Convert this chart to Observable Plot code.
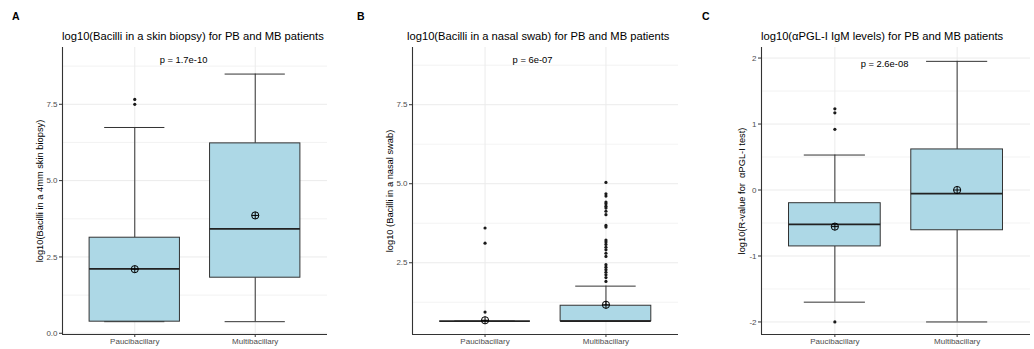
<!DOCTYPE html>
<html>
<head>
<meta charset="utf-8">
<script src="https://cdn.jsdelivr.net/npm/d3@7"></script>
<script src="https://cdn.jsdelivr.net/npm/@observablehq/plot@0.6"></script>
<style>
  html, body { margin: 0; padding: 0; background: #fff; }
  body { font-family: "Liberation Sans", Arial, sans-serif; }
  #wrap { position: relative; width: 1034px; height: 349px; overflow: hidden; }
  .panel { position: absolute; top: 0; height: 349px; }
  .letter { position: absolute; top: 11px; font-weight: bold; font-size: 10.5px; line-height: 11px; color: #000; }
  .title { position: absolute; top: 30px; font-size: 11.2px; line-height: 13px; white-space: nowrap; color: #000; }
</style>
</head>
<body>
<div id="wrap"></div>
<script>
// ---------- data ----------
const groups = ["Paucibacillary", "Multibacillary"];

// Panel A: log10(Bacilli in a skin biopsy)
const skinWhiskerLow  = [0.38, 0.38];
const skinQ1          = [0.38, 1.82];
const skinMedian      = [2.11, 3.42];
const skinQ3          = [3.13, 6.22];
const skinWhiskerHigh = [6.74, 8.49];
const skinMean        = [2.10, 3.86];
const skinOutliersPB  = [7.50, 7.66];
const skinOutliersMB  = [];

// Panel B: log10(Bacilli in a nasal swab)
const nasalWhiskerLow  = [0.65, 0.65];
const nasalQ1          = [0.65, 0.65];
const nasalMedian      = [0.65, 0.65];
const nasalQ3          = [0.65, 1.14];
const nasalWhiskerHigh = [0.65, 1.76];
const nasalMean        = [0.68, 1.17];
const nasalOutliersPB  = [0.94, 3.12, 3.60];
const nasalOutliersMB  = [1.91, 2.03, 2.12, 2.20, 2.28, 2.36, 2.44, 2.70, 2.80, 2.91, 2.99, 3.08, 3.16, 3.22,
                          3.63, 3.68, 4.02, 4.13, 4.23, 4.29, 4.37, 4.42, 4.61, 4.68, 5.04];

// Panel C: log10(aPGL-I IgM levels)
const igmWhiskerLow  = [-1.70, -2.00];
const igmQ1          = [-0.855, -0.61];
const igmMedian      = [-0.52, -0.056];
const igmQ3          = [-0.20, 0.615];
const igmWhiskerHigh = [0.53, 1.95];
const igmMean        = [-0.555, 0.00];
const igmOutliersPB  = [-2.00, 0.92, 1.17, 1.23];
const igmOutliersMB  = [];

// tick values
const skinTicks = [0, 2.5, 5, 7.5];
const skinMinor = [1.25, 3.75, 6.25, 8.75];
const nasalTicks = [2.5, 5, 7.5];
const nasalMinor = [1.25, 3.75, 6.25, 8.75];
const igmTicks = [-2, -1, 0, 1, 2];
const igmMinor = [-1.5, -0.5, 0.5, 1.5];

const titles = [
  "log10(Bacilli in a skin biopsy) for PB and MB patients",
  "log10(Bacilli in a nasal swab) for PB and MB patients",
  "log10(\u03B1PGL-I IgM levels) for PB and MB patients"
];
const yLabels = [
  "log10(Bacilli in a 4mm skin biopsy)",
  "log10 (Bacilli in a nasal swab)",
  "log10(R-value for  \u03B1PGL-I test)"
];
const pLabels = ["p = 1.7e-10", "p = 6e-07", "p = 2.6e-08"];
const letters = ["A", "B", "C"];

// ---------- drawing ----------
const circlePlus = {
  draw(ctx, size) {
    const r = Math.sqrt(size / Math.PI);
    ctx.moveTo(r, 0);
    ctx.arc(0, 0, r, 0, 2 * Math.PI);
    ctx.moveTo(-r, 0); ctx.lineTo(r, 0);
    ctx.moveTo(0, -r); ctx.lineTo(0, r);
  }
};

function makeRows(lo, q1, med, q3, hi, mean) {
  return groups.map((g, i) => ({g, x: i + 1, lo: lo[i], q1: q1[i], med: med[i], q3: q3[i], hi: hi[i], mean: mean[i]}));
}
function makeOutliers(pb, mb) {
  return [...pb.map(v => ({x: 1, y: v})), ...mb.map(v => ({x: 2, y: v}))];
}

function panel(o) {
  const xDom = [0.4, 2.6];
  const dark = "#333333";
  return Plot.plot({
    width: o.width, height: 349,
    marginTop: 47, marginBottom: 15, marginLeft: o.marginLeft, marginRight: o.marginRight,
    style: {fontFamily: "'Liberation Sans', Arial, sans-serif", fontSize: "8px", background: "white", overflow: "visible"},
    x: {domain: xDom, axis: null},
    y: {domain: o.yDomain, axis: null},
    marks: [
      Plot.ruleY(o.minor, {stroke: "#ebebeb", strokeWidth: 0.6}),
      Plot.ruleY(o.ticks, {stroke: "#ebebeb", strokeWidth: 1}),
      Plot.ruleX([1, 2], {stroke: "#ebebeb", strokeWidth: 1}),
      // whiskers
      Plot.ruleX(o.rows, {x: "x", y1: "lo", y2: "q1", stroke: dark, strokeWidth: 1}),
      Plot.ruleX(o.rows, {x: "x", y1: "q3", y2: "hi", stroke: dark, strokeWidth: 1}),
      Plot.ruleY(o.rows, {y: "hi", x1: d => d.x - 0.25, x2: d => d.x + 0.25, stroke: dark, strokeWidth: 1}),
      Plot.ruleY(o.rows, {y: "lo", x1: d => d.x - 0.25, x2: d => d.x + 0.25, stroke: dark, strokeWidth: 1}),
      // box
      Plot.rect(o.rows, {x1: d => d.x - 0.375, x2: d => d.x + 0.375, y1: "q1", y2: "q3", fill: "#ADD8E6", stroke: dark, strokeWidth: 1}),
      Plot.ruleY(o.rows, {y: "med", x1: d => d.x - 0.375, x2: d => d.x + 0.375, stroke: "#222", strokeWidth: 1.7}),
      // outliers
      Plot.dot(o.outliers, {x: "x", y: "y", r: 1.6, fill: "#1a1a1a", stroke: null}),
      // mean
      Plot.dot(o.rows, {x: "x", y: "mean", r: 3.6, symbol: circlePlus, fill: "none", stroke: "#000", strokeWidth: 1}),
      // axis lines
      Plot.ruleX([xDom[0]], {stroke: dark, strokeWidth: 1.1}),
      Plot.ruleY([o.yDomain[0]], {stroke: dark, strokeWidth: 1.1}),
      // axes
      Plot.axisY(o.ticks, {tickSize: 3, tickPadding: 2, tickFormat: o.fmt, fill: "#4d4d4d", stroke: dark, label: null, fontSize: 8}),
      Plot.axisX([1, 2], {tickSize: 3, tickPadding: 1, tickFormat: i => groups[i - 1], fill: "#4d4d4d", stroke: dark, label: null, fontSize: 8}),
      // y-axis title
      Plot.text([o.yLabel], {frameAnchor: "left", textAnchor: "middle", rotate: -90, dx: o.yLabelDx, fontSize: 9.3, fill: "#000"}),
      // p-value label
      Plot.text([o.pLabel], {frameAnchor: "top", dx: o.pDx, dy: o.pDy, fontSize: 9.4, fill: "#000"})
    ]
  });
}

const specs = [
  {left: 0, width: 345, marginLeft: 62, marginRight: 18, yDomain: [-0.04, 9.36], ticks: skinTicks, minor: skinMinor,
   fmt: d3.format(".1f"), rows: makeRows(skinWhiskerLow, skinQ1, skinMedian, skinQ3, skinWhiskerHigh, skinMean),
   outliers: makeOutliers(skinOutliersPB, skinOutliersMB), yLabelDx: -22, pDx: -11.5, pDy: 9, titleLeft: 62},
  {left: 345, width: 345, marginLeft: 67, marginRight: 12, yDomain: [0.23, 9.31], ticks: nasalTicks, minor: nasalMinor,
   fmt: d3.format(".1f"), rows: makeRows(nasalWhiskerLow, nasalQ1, nasalMedian, nasalQ3, nasalWhiskerHigh, nasalMean),
   outliers: makeOutliers(nasalOutliersPB, nasalOutliersMB), yLabelDx: -22, pDx: -13, pDy: 9, titleLeft: 62},
  {left: 690, width: 344, marginLeft: 71, marginRight: 4, yDomain: [-2.19, 2.16], ticks: igmTicks, minor: igmMinor,
   fmt: d => `${d}`, rows: makeRows(igmWhiskerLow, igmQ1, igmMedian, igmQ3, igmWhiskerHigh, igmMean),
   outliers: makeOutliers(igmOutliersPB, igmOutliersMB), yLabelDx: -19, pDx: -11.5, pDy: 13, titleLeft: 71}
];

const wrap = document.getElementById("wrap");
specs.forEach((s, i) => {
  const div = document.createElement("div");
  div.className = "panel";
  div.style.left = s.left + "px";
  div.style.width = s.width + "px";
  div.appendChild(panel({...s, yLabel: yLabels[i], pLabel: pLabels[i]}));
  const letter = document.createElement("div");
  letter.className = "letter";
  letter.style.left = "12px";
  letter.textContent = letters[i];
  div.appendChild(letter);
  const title = document.createElement("div");
  title.className = "title";
  title.style.left = s.titleLeft + "px";
  title.textContent = titles[i];
  div.appendChild(title);
  wrap.appendChild(div);
});
</script>
</body>
</html>
